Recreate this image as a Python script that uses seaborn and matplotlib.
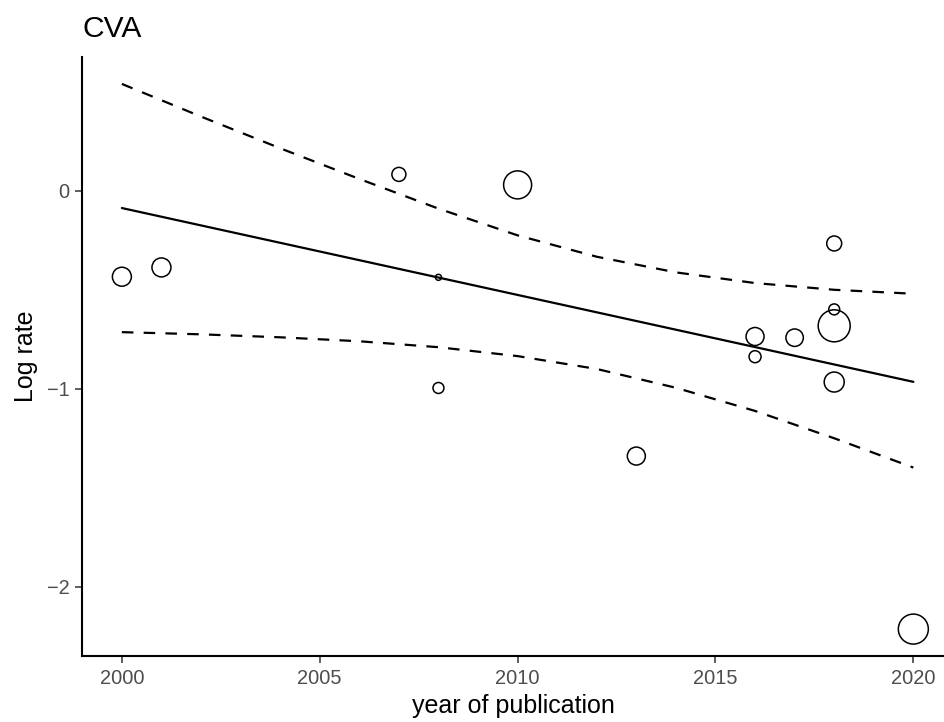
import numpy as np
import pandas as pd
import matplotlib
matplotlib.use("Agg")
import matplotlib.pyplot as plt
import seaborn as sns

# study estimates (year, log rate, weight)
year = [2000, 2001, 2007, 2008, 2008, 2010, 2013, 2016, 2016, 2017,
        2018, 2018, 2018, 2018, 2020]
log_rate = [-0.434, -0.387, 0.083, -0.437, -0.996, 0.030, -1.340, -0.736,
            -0.838, -0.742, -0.266, -0.599, -0.682, -0.966, -2.214]
weight = [90, 90, 49, 9, 30, 196, 81, 81, 36, 76, 56, 30, 256, 100, 225]

# meta-regression fit and 95% band
fit_year = [2000, 2020]
fit_val = [-0.087, -0.965]
band_year = [2000, 2002, 2004, 2006, 2008, 2010, 2012, 2014, 2016, 2018, 2020]
band_upper = [0.540, 0.375, 0.215, 0.060, -0.090, -0.225, -0.333, -0.412,
              -0.466, -0.500, -0.520]
band_lower = [-0.714, -0.725, -0.740, -0.760, -0.790, -0.835, -0.900, -0.995,
              -1.112, -1.250, -1.398]

df = pd.DataFrame({"year": year, "log_rate": log_rate, "weight": weight})

sns.set_style("white")
plt.rcParams["font.family"] = ["Liberation Sans", "DejaVu Sans"]
plt.rcParams["text.color"] = "black"
plt.rcParams["axes.labelcolor"] = "black"

W, H = 945, 722
fig = plt.figure(figsize=(W / 100, H / 100), dpi=100)
ax = fig.add_axes([82.3 / W, (H - 656) / H, (W - 82.3) / W, (656 - 57) / H])

sns.lineplot(x=fit_year, y=fit_val, ax=ax, color="black", linewidth=1.6)
for band in (band_upper, band_lower):
    sns.lineplot(x=band_year, y=band, ax=ax, color="black", linewidth=1.6,
                 linestyle=(0, (5.2, 4.6)))

k = 2.0736  # area per weight unit
sns.scatterplot(data=df, x="year", y="log_rate", size="weight",
                sizes=(k * min(weight), k * max(weight)),
                size_norm=(min(weight), max(weight)),
                facecolor="none", edgecolor="black", linewidth=1.1,
                legend=False, ax=ax)

ax.set_xlim(1999.0, 2020.8)
ax.set_ylim(-2.35, 0.676)
ax.set_xticks([2000, 2005, 2010, 2015, 2020])
ax.set_yticks([-2, -1, 0])
ax.set_yticklabels(["\u22122", "\u22121", "0"])

for s in ["top", "right"]:
    ax.spines[s].set_visible(False)
for s in ["left", "bottom"]:
    ax.spines[s].set_linewidth(1.5)
    ax.spines[s].set_color("black")
ax.tick_params(axis="both", bottom=True, left=True, length=5, width=1.1,
               color="#333333", labelcolor="#4D4D4D", labelsize=14.4, pad=4)

ax.set_xlabel("year of publication", fontsize=18, labelpad=5)
ax.set_ylabel("")
fig.text(26 / W, 1 - 356.5 / H, "Log rate", rotation=90, fontsize=18,
         ha="center", va="center")
fig.text(82.7 / W, 1 - 36.7 / H, "CVA", fontsize=21.6, ha="left",
         va="baseline")

fig.savefig("out.png", dpi=100)
